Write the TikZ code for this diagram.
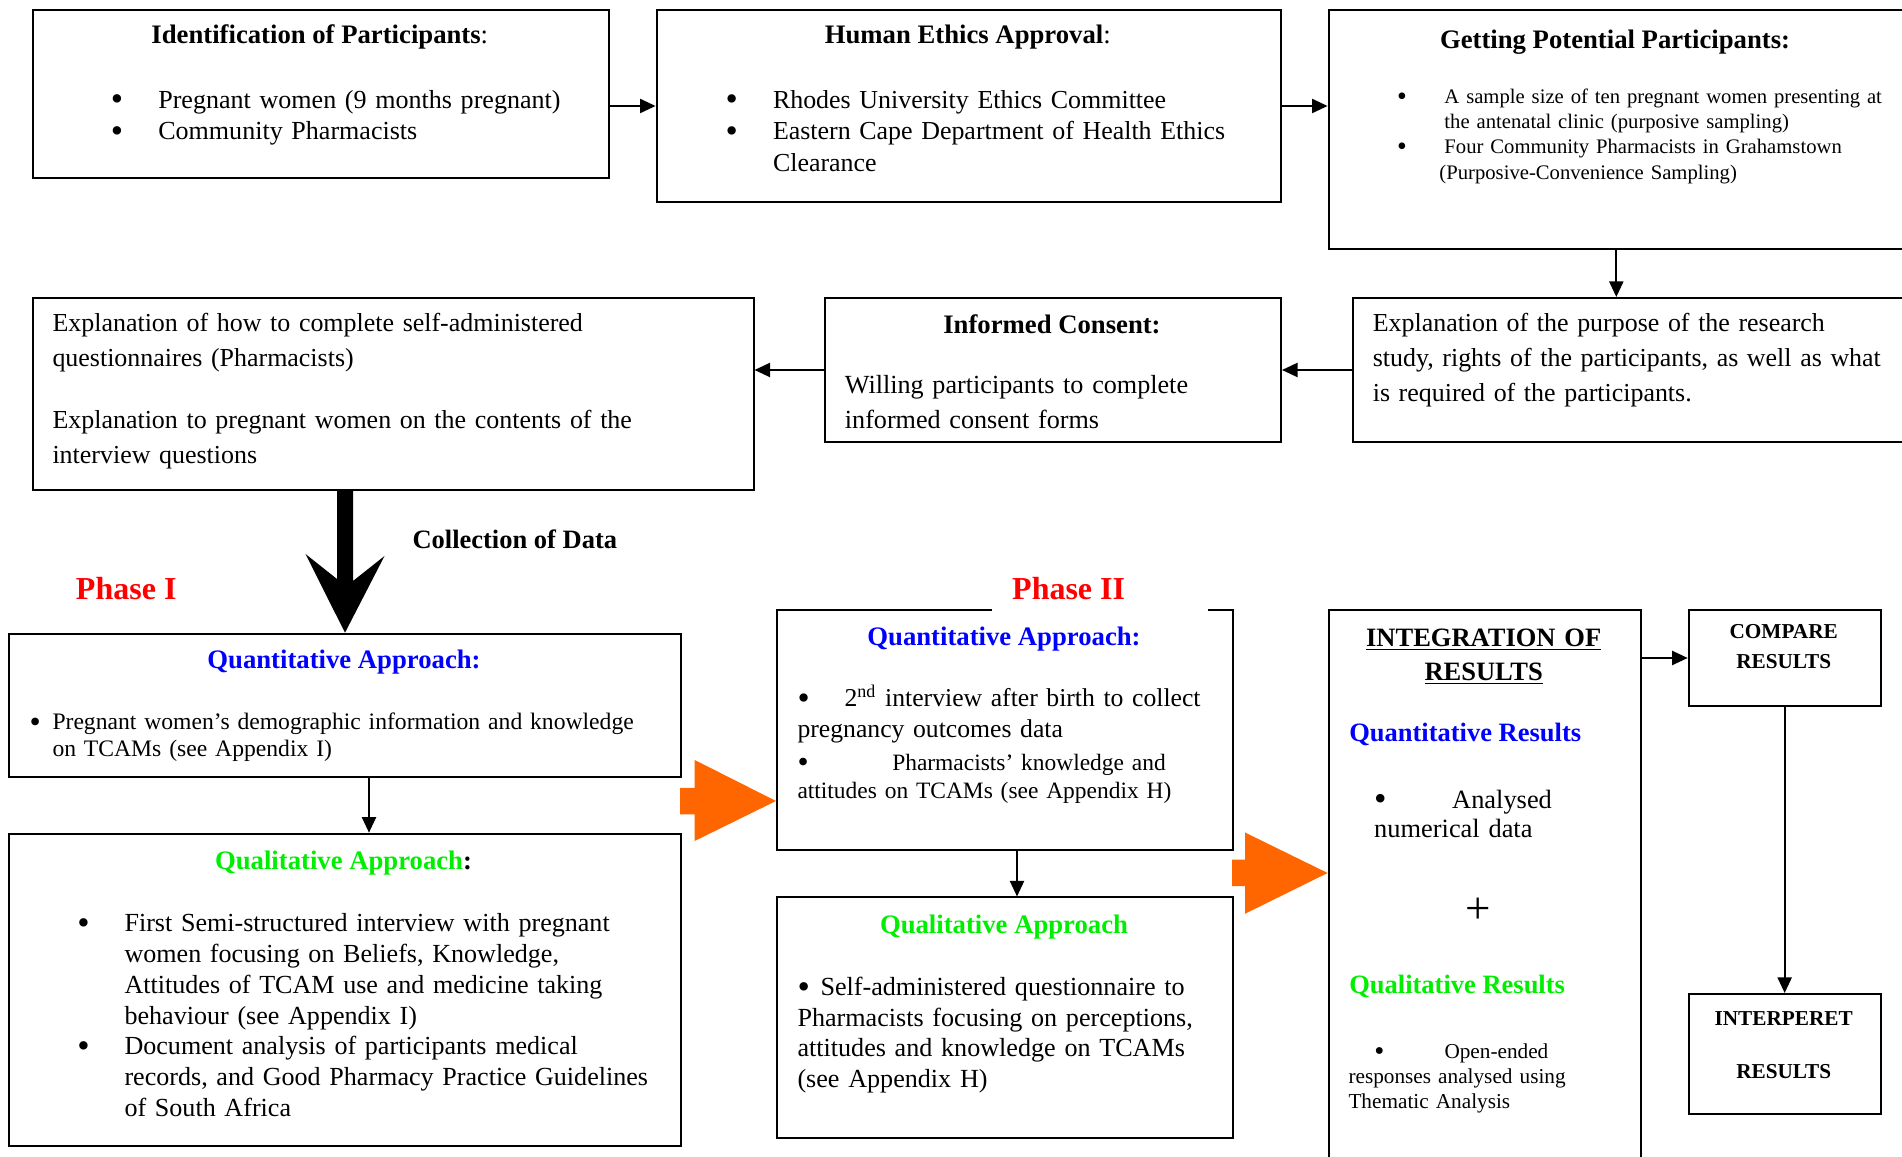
\documentclass[tikz,border=0pt]{standalone}
\usepackage{fontspec}
\usepackage{graphicx}
\setmainfont{Liberation Serif}
\usetikzlibrary{arrows.meta, positioning, calc}
\definecolor{phasered}{HTML}{FF0000}
\definecolor{quantblue}{HTML}{0000FF}
\definecolor{qualgreen}{HTML}{00EE00}
\definecolor{flowarrow}{HTML}{FF6600}
\newcommand{\setfs}[2]{\fontsize{#1}{#2}\selectfont}
\newcommand{\bulit}[1]{\makebox[#1][l]{\raisebox{-0.1em}{\scalebox{1.35}{\textbullet}}}}

\begin{document}
\begin{tikzpicture}[
    x=0.4pt, y=-0.4pt,
    box/.style 2 args={rectangle, draw=black, line width=0.8pt, inner sep=0pt, anchor=north west, minimum width=#1, minimum height=#2},
    head/.style={anchor=base, inner sep=0pt, font=\setfs{10.68pt}{12.8pt}\bfseries},
    body/.style={anchor=base west, inner sep=0pt, align=left, text width=#1},
    phase/.style={anchor=base west, inner sep=0pt, text=phasered, font=\setfs{12.8pt}{14pt}\bfseries},
    arr/.style={-{Triangle[length=6.2pt, width=5.6pt]}, line width=0.8pt},
    flowarr/.style={fill=flowarrow}
]
\useasboundingbox (0,0) rectangle (1902,1157);

% Top row
\node[box={230.56pt}{67.08pt}] (ident) at (31.6,9) {};
\node[box={249.76pt}{76.8pt}] (ethics) at (655.6,9) {};
\node[box={230.16pt}{95.6pt}] (recruit) at (1327.6,9) {};

\node[head] (identT) at (319.8,44) {Identification of Participants{\mdseries :}};
\node[body=195pt, font=\setfs{10.42pt}{12.68pt}] (identL) at (110.3,108.3)
    {\bulit{19pt}Pregnant women (9 months pregnant)\\\bulit{19pt}Community Pharmacists};
\node[head] (ethicsT) at (967.8,44) {Human Ethics Approval{\mdseries :}};
\node[body=220pt, font=\setfs{10.37pt}{12.6pt}] (ethicsL) at (725,108.3)
    {\bulit{19pt}Rhodes University Ethics Committee\\\bulit{19pt}Eastern Cape Department of Health Ethics\\\hspace*{19pt}Clearance};
\node[head] (recruitT) at (1615,48.3) {Getting Potential Participants:};
\node[body=200pt, font=\setfs{8.27pt}{10.12pt}] (recruitL) at (1396.7,103.3)
    {\bulit{18.9pt}A sample size of ten pregnant women presenting at\\\hspace*{18.9pt}the antenatal clinic (purposive sampling)\\\bulit{18.9pt}Four Community Pharmacists in Grahamstown\\\hspace*{16.9pt}(Purposive-Convenience Sampling)};

% Second row
\node[box={288.36pt}{76.8pt}] (explain) at (31.6,297) {};
\node[box={182.4pt}{57.6pt}] (consent) at (824,297) {};
\node[box={228pt}{57.6pt}] (purpose) at (1351.8,297) {};

\node[body=275pt, font=\setfs{10.38pt}{14pt}] (explainL) at (52,331.7)
    {Explanation of how to complete self-administered\\questionnaires (Pharmacists)\\[10.9pt]Explanation to pregnant women on the contents of the\\interview questions};
\node[head] (consentT) at (1052,333.3) {Informed Consent:};
\node[body=170pt, font=\setfs{10.46pt}{14pt}] (consentL) at (844.4,393.5)
    {Willing participants to complete\\informed consent forms};
\node[body=212pt, font=\setfs{10.37pt}{14pt}] (purposeL) at (1372.3,331.7)
    {Explanation of the purpose of the research\\study, rights of the participants, as well as what\\is required of the participants.};

% Phase I
\node[box={268.8pt}{57.52pt}] (quantI) at (8,632.7) {};
\node[box={268.8pt}{124.76pt}] (qualI) at (8,832.7) {};

\node[anchor=base west, inner sep=0pt, font=\setfs{10.6pt}{12pt}\bfseries] (collect) at (412,548.3) {Collection of Data};
\node[phase] (phaseI) at (75.5,600) {Phase I};
\node[head, text=quantblue] (quantIT) at (344,669) {Quantitative Approach:};
\node[body=258pt, font=\setfs{9.45pt}{10.64pt}] (quantIL) at (29,729.7)
    {\bulit{9.2pt}Pregnant women's demographic information and knowledge\\\hspace*{9.2pt}on TCAMs (see Appendix I)};
\node[head] (qualIT) at (343.5,870) {\textcolor{qualgreen}{Qualitative Approach}:};
\node[body=238pt, font=\setfs{10.43pt}{12.28pt}] (qualIL) at (76.8,932)
    {\bulit{18.9pt}First Semi-structured interview with pregnant\\\hspace*{18.9pt}women focusing on Beliefs, Knowledge,\\\hspace*{18.9pt}Attitudes of TCAM use and medicine taking\\\hspace*{18.9pt}behaviour (see Appendix I)\\\bulit{18.9pt}Document analysis of participants medical\\\hspace*{18.9pt}records, and Good Pharmacy Practice Guidelines\\\hspace*{18.9pt}of South Africa};

% Phase II
\node[box={182.4pt}{95.88pt}] (quantII) at (776,609) {};
\node[box={182.4pt}{96.2pt}] (qualII) at (776,896.5) {};
\fill[white] (991.7,598) rectangle (1208.3,620);

\node[phase] (phaseII) at (1011.7,600) {Phase II};
\node[head, text=quantblue] (quantIIT) at (1004,645.5) {Quantitative Approach:};
\node[body=172pt, font=\setfs{10.28pt}{12.2pt}] (quantIIa) at (797,707)
    {\bulit{18.8pt}2\textsuperscript{nd} interview after birth to collect\\pregnancy outcomes data};
\node[body=172pt, font=\setfs{9.38pt}{11.36pt}] (quantIIb) at (797,770.6)
    {\bulit{37.9pt}Pharmacists' knowledge and\\attitudes on TCAMs (see Appendix H)};
\node[head, text=qualgreen] (qualIIT) at (1004,934) {Qualitative Approach};
\node[body=172pt, font=\setfs{10.45pt}{12.16pt}] (qualIIL) at (797,996)
    {\bulit{9.2pt}Self-administered questionnaire to\\Pharmacists focusing on perceptions,\\attitudes and knowledge on TCAMs\\(see Appendix H)};

% Results
\node[box={124.96pt}{228pt}] (integ) at (1327.6,609) {};
\node[box={76.76pt}{38.4pt}] (compare) at (1687.7,609) {};
\node[box={76.76pt}{47.8pt}] (interp) at (1687.7,993) {};

\node[head, align=center, text width=120pt, font=\setfs{10.6pt}{13.6pt}\bfseries] (integT) at (1483.7,646.2)
    {\underline{INTEGRATION OF}\\\underline{RESULTS}};
\node[anchor=base west, inner sep=0pt, text=quantblue, font=\setfs{10.6pt}{12pt}\bfseries] (quantR) at (1348.8,742) {Quantitative Results};
\node[body=100pt, font=\setfs{10.56pt}{11.76pt}] (quantRL) at (1373.7,808.2)
    {\bulit{31.2pt}Analysed\\numerical data};
\node[inner sep=0pt, font=\setfs{18pt}{20pt}] (plus) at (1478.5,911.2) {+};
\node[anchor=base west, inner sep=0pt, text=qualgreen, font=\setfs{10.6pt}{12pt}\bfseries] (qualR) at (1348.8,994) {Qualitative Results};
\node[body=110pt, font=\setfs{8.5pt}{9.96pt}] (qualRL) at (1348,1058.5)
    {\hspace*{10.3pt}\bulit{28.1pt}Open-ended\\responses analysed using\\Thematic Analysis};
\node[head, align=center, text width=70pt, font=\setfs{8.5pt}{11.76pt}\bfseries] (compareT) at (1783.7,638.9)
    {COMPARE\\RESULTS};
\node[head, align=center, text width=70pt, font=\setfs{8.5pt}{11.76pt}\bfseries] (interpT) at (1783.7,1025.3)
    {INTERPERET\\[9.6pt]RESULTS};

% Connectors
\draw[arr] (ident.east |- ethics.west) -- (ethics.west);
\draw[arr] (ethics.east) -- (ethics.east -| recruit.west);
\draw[arr] (recruit.south) -- (recruit.south |- purpose.north);
\draw[arr] (purpose.west) -- (consent.east);
\draw[arr] (consent.west) -- (consent.west -| explain.east);

\fill (quantI.north |- explain.south) ++(-8,0) -- ++(16,0) -- ++(0,90) -- ++(31.5,-25)
    -- (quantI.north) -- ++(-39.5,-78.7) -- ++(31.5,25) -- cycle;

\coordinate (q1) at ($(quantI.south)+(24,0)$);
\draw[arr] (q1) -- (q1 |- qualI.north);
\coordinate (q2) at ($(quantII.south)+(12,0)$);
\draw[arr] (q2) -- (q2 |- qualII.north);
\draw[arr] (compare.west -| integ.east) -- (compare.west);
\draw[arr] (compare.south) -- (interp.north);

% Orange arrows
\fill[flowarr] (680,788) -- (694.7,788) -- (694.7,760) -- (776,801) -- (694.7,841) -- (694.7,814.5) -- (680,814.5) -- cycle;
\fill[flowarr] (1232,859.7) -- (1245,859.7) -- (1245,832.5) -- (1327.6,873) -- (1245,913.8) -- (1245,886.2) -- (1232,886.2) -- cycle;

\end{tikzpicture}
\end{document}
